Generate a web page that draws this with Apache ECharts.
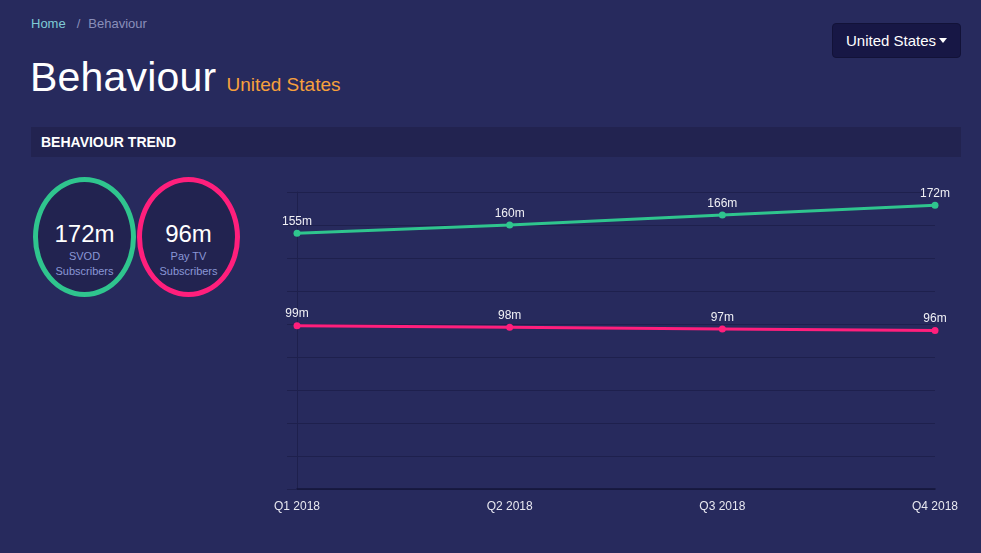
<!DOCTYPE html>
<html>
<head>
<meta charset="utf-8">
<script src="https://cdn.jsdelivr.net/npm/echarts@6/dist/echarts.min.js"></script>
<style>
  html, body { margin:0; padding:0; width:981px; height:553px; overflow:hidden; background:#272a5d; font-family:"Liberation Sans", Arial, Helvetica, sans-serif; }
  .crumb { position:absolute; left:31px; top:16px; font-size:13px; color:#8a8fba; }
  .crumb .home { color:#7fcbd6; }
  .crumb .sep { margin:0 8px 0 11px; }
  .title { position:absolute; left:30px; top:54px; font-size:41px; color:#ffffff; font-weight:500; letter-spacing:0.2px; }
  .title .sub { font-size:19px; color:#f7a03c; margin-left:10px; font-weight:normal; letter-spacing:0; }
  .btn { position:absolute; left:832px; top:23px; width:129px; height:35px; box-sizing:border-box; background:#171745; border:1px solid #121238; border-radius:4px; color:#ffffff; font-size:15px; line-height:34px; text-align:center; }
  .btn .caret { display:inline-block; width:0; height:0; border-left:4px solid transparent; border-right:4px solid transparent; border-top:5px solid #fff; vertical-align:3px; margin-left:3px; }
  .band { position:absolute; left:31px; top:127px; width:930px; height:30px; background:#222350; color:#fff; font-weight:bold; font-size:14px; line-height:30px; box-sizing:border-box; padding-left:10px; }
  .ring { position:absolute; top:177px; width:103px; height:120px; box-sizing:border-box; border-radius:50%; border:5px solid; background:#222350; text-align:center; color:#fff; }
  .ring .v { margin-top:38px; font-size:24px; }
  .ring .l { font-size:11px; color:#8a97d6; line-height:15px; margin-top:1px; }
  #chart { position:absolute; left:0; top:0; width:981px; height:553px; }
</style>
</head>
<body>
<div class="crumb"><span class="home">Home</span><span class="sep">/</span>Behaviour</div>
<div class="title">Behaviour<span class="sub">United States</span></div>
<div class="btn">United States<span class="caret"></span></div>
<div class="band">BEHAVIOUR TREND</div>
<div id="rings"></div>
<div id="chart"></div>
<script>
const categories = ['Q1 2018', 'Q2 2018', 'Q3 2018', 'Q4 2018'];
const svodValues = [155, 160, 166, 172];
const payTvValues = [99, 98, 97, 96];
const yTicks = [0, 20, 40, 60, 80, 100, 120, 140, 160, 180];
const seriesNames = ['SVOD Subscribers', 'Pay TV Subscribers'];
const ringLabels = [['SVOD', 'Subscribers'], ['Pay TV', 'Subscribers']];
const green = '#2fc58e';
const pink = '#ff1f7c';

// summary rings (latest values)
const ringsEl = document.getElementById('rings');
[[svodValues, green, ringLabels[0], 33], [payTvValues, pink, ringLabels[1], 137]].forEach(([vals, col, lab, left]) => {
  const d = document.createElement('div');
  d.className = 'ring';
  d.style.left = left + 'px';
  d.style.borderColor = col;
  d.innerHTML = '<div class="v">' + vals[vals.length - 1] + 'm</div><div class="l">' + lab[0] + '<br>' + lab[1] + '</div>';
  ringsEl.appendChild(d);
});

const chart = echarts.init(document.getElementById('chart'), null, { renderer: 'canvas' });
const gridCol = '#1e204d';
const labelCfg = { show: true, position: 'top', distance: 2, color: '#f0f0f5', fontSize: 12, fontFamily: 'Liberation Sans, Arial, sans-serif', formatter: p => p.value + 'm' };
chart.setOption({
  animation: false,
  backgroundColor: 'transparent',
  grid: { left: 297, right: 46, top: 192, bottom: 64, containLabel: false },
  xAxis: {
    type: 'category', data: categories, boundaryGap: false,
    axisLine: { show: true, lineStyle: { color: '#15163a', width: 1.5 } },
    axisTick: { show: false },
    axisLabel: { color: '#e8e8f0', fontSize: 12, margin: 12, fontFamily: 'Liberation Sans, Arial, sans-serif' },
    splitLine: { show: false }
  },
  yAxis: {
    type: 'value', min: yTicks[0], max: yTicks[yTicks.length - 1], interval: yTicks[1] - yTicks[0],
    axisLine: { show: true, lineStyle: { color: gridCol } },
    axisTick: { show: true, length: 10, lineStyle: { color: gridCol } },
    axisLabel: { show: false },
    splitLine: { show: true, lineStyle: { color: gridCol, width: 1 } }
  },
  series: [
    { name: seriesNames[0], type: 'line', data: svodValues, color: green, lineStyle: { width: 3, color: green }, symbol: 'circle', symbolSize: 7, itemStyle: { color: green }, label: labelCfg },
    { name: seriesNames[1], type: 'line', data: payTvValues, color: pink, lineStyle: { width: 3, color: pink }, symbol: 'circle', symbolSize: 7, itemStyle: { color: pink }, label: labelCfg }
  ]
});
</script>
</body>
</html>
